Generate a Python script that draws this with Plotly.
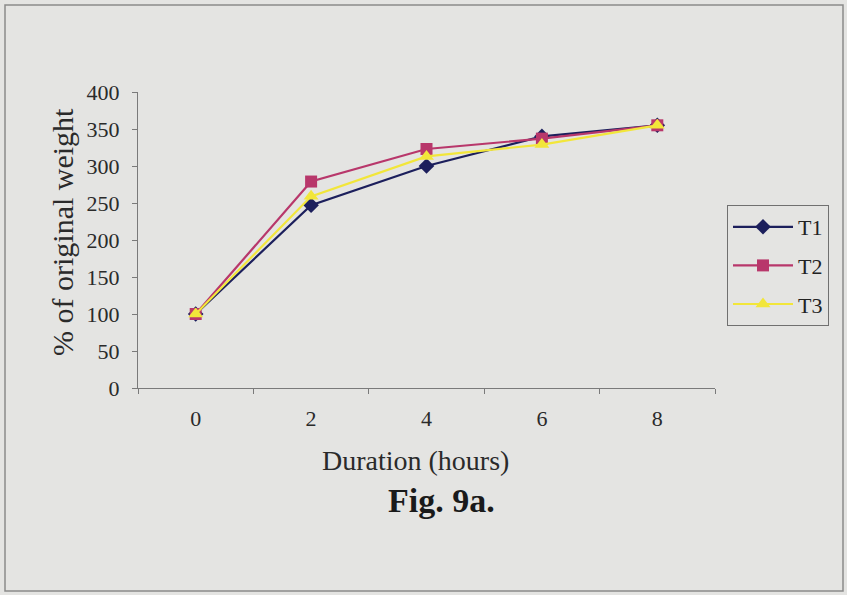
import plotly.graph_objects as go

# Swelling data: % of original weight over time for three treatments
durations = ["0", "2", "4", "6", "8"]
t1 = [100, 247, 300, 340, 355]
t2 = [100, 279, 323, 337, 355]
t3 = [100, 259, 313, 329, 355]

W, H = 847, 595
L, R, T, B = 138, 715, 92, 388  # plot area in pixels


def px(x):
    return (x - L) / (R - L)


def py(y):
    return (B - y) / (B - T)


fig = go.Figure()
series = [
    ("T1", t1, "#1c1f5c", "diamond", 12),
    ("T2", t2, "#b8376b", "square", 12),
    ("T3", t3, "#f2e63a", "triangle-up", 13),
]
for name, vals, col, sym, sz in series:
    fig.add_trace(go.Scatter(
        x=durations, y=vals, name=name, mode="lines+markers",
        legendgroup=name,
        line=dict(color=col, width=2.2),
        marker=dict(symbol=sym, size=sz, color=col),
    ))

font_family = "Liberation Serif, Times New Roman, serif"
fig.update_layout(
    width=W, height=H,
    margin=dict(l=L, r=W - R, t=T, b=H - B),
    paper_bgcolor="#e4e4e2",
    plot_bgcolor="#e4e4e2",
    font=dict(family=font_family, size=22, color="#2a2a2a"),
    showlegend=True,
    legend=dict(
        x=px(727), y=py(205), xanchor="left", yanchor="top",
        bgcolor="rgba(0,0,0,0)", bordercolor="#707070", borderwidth=1,
        font=dict(size=22, color="#222"), itemwidth=60,
        traceorder="grouped", tracegroupgap=7,
    ),
    xaxis=dict(
        type="category", range=[-0.5, 4.5], tickson="boundaries",
        showgrid=False, showline=True, linecolor="#7a7a7a", linewidth=1,
        ticks="outside", ticklen=5, tickcolor="#7a7a7a",
        tickfont=dict(size=22), ticklabelstandoff=11, zeroline=False,
    ),
    yaxis=dict(
        range=[0, 400], dtick=50, showgrid=False, showline=True,
        linecolor="#7a7a7a", linewidth=1, ticks="outside", ticklen=5,
        tickcolor="#7a7a7a", tickfont=dict(size=22), ticklabelstandoff=8,
        zeroline=False,
    ),
    annotations=[
        dict(text="% of original weight", x=px(62), y=py(232), xref="paper",
             yref="paper", xanchor="center", yanchor="middle",
             textangle=-90, showarrow=False,
             font=dict(size=30, family=font_family, color="#2a2a2a")),
        dict(text="Duration (hours)", x=px(415), y=py(460), xref="paper",
             yref="paper", xanchor="center", yanchor="middle",
             showarrow=False,
             font=dict(size=28, family=font_family, color="#2a2a2a")),
        dict(text="<b>Fig. 9a.</b>", x=px(441), y=py(500), xref="paper",
             yref="paper", xanchor="center", yanchor="middle",
             showarrow=False,
             font=dict(size=34, family=font_family, color="#1a1a1a")),
    ],
    shapes=[
        dict(type="rect", xref="paper", yref="paper",
             x0=px(5), x1=px(843), y0=py(591), y1=py(5),
             line=dict(color="#8a8a8a", width=1.5)),
    ],
)

fig.write_html("out.html")
